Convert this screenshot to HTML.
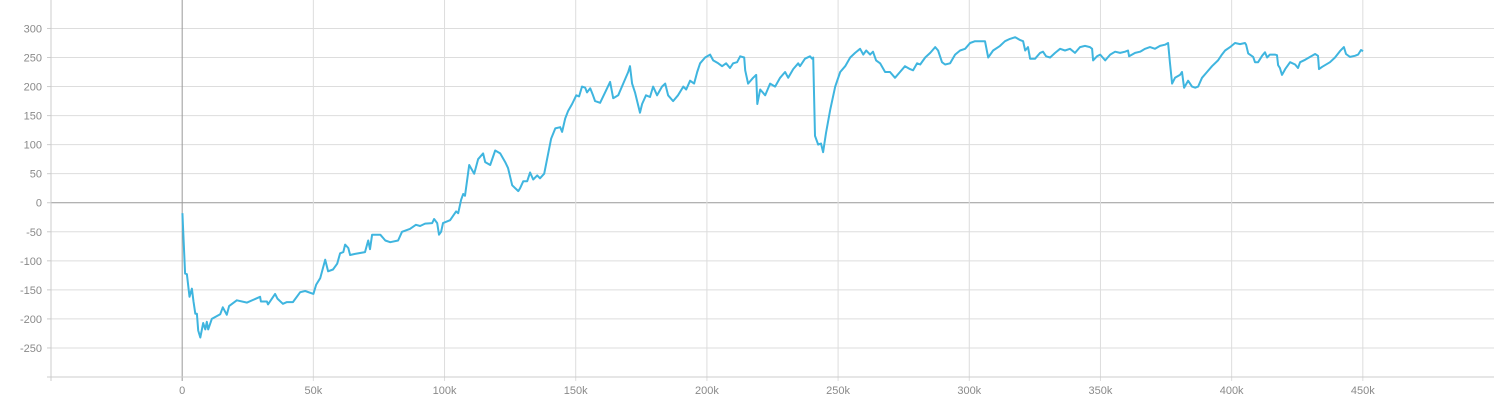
<!DOCTYPE html>
<html><head><meta charset="utf-8"><style>
html,body{margin:0;padding:0;background:#fff;width:1496px;height:400px;overflow:hidden}
svg text{font-family:"Liberation Sans",sans-serif;font-size:11px;fill:#8a8a8a}
</style></head><body>
<svg id="chart" width="1496" height="400" xmlns="http://www.w3.org/2000/svg"></svg>
<script>
const stepsK = [0.1,1.1,1.8,2.8,3.7,4.3,5.0,5.6,6.1,6.9,8.0,8.8,9.4,9.9,11.3,14.5,15.5,17.0,17.9,20.8,24.7,29.7,30.0,32.3,32.7,35.4,36.3,38.4,39.9,42.2,45.0,46.9,50.0,51.1,52.6,54.5,55.6,57.5,59.1,60.2,61.4,62.1,63.3,64.0,65.9,69.7,70.9,71.6,72.4,75.5,77.4,79.3,82.3,83.8,86.8,89.1,90.7,92.6,95.3,96.0,97.2,97.9,98.7,99.4,102.1,104.4,105.2,106.3,107.1,107.8,109.4,111.3,112.8,114.7,115.5,117.4,119.3,121.2,123.1,124.2,125.8,128.1,128.8,130.0,131.5,132.6,133.8,135.3,136.4,138.0,139.5,140.6,142.2,144.1,144.8,146.0,147.1,148.6,150.2,151.3,152.4,153.6,154.3,155.5,156.6,157.4,159.3,161.2,163.1,164.3,166.2,168.1,170.0,170.7,171.5,172.6,174.5,175.3,176.8,178.3,179.5,181.0,182.9,184.1,185.2,187.1,189.0,191.0,192.1,193.6,195.1,196.3,197.4,199.3,201.2,202.4,204.3,205.8,207.3,208.8,210.0,211.5,212.7,214.2,214.6,215.7,217.6,218.8,219.2,220.3,222.2,224.1,226.0,227.9,229.8,231.0,232.9,234.8,235.5,237.4,239.3,240.1,240.5,241.2,242.4,243.5,244.3,245.4,247.0,248.9,250.8,252.7,254.6,256.5,258.4,259.6,260.7,262.2,263.3,264.5,266.0,267.9,269.8,271.7,273.6,275.5,277.4,278.6,280.1,281.3,283.2,285.1,287.0,288.1,289.6,290.8,292.7,294.6,296.5,298.4,300.3,302.2,304.1,306.0,307.2,309.1,311.7,313.6,315.5,317.5,319.4,320.5,321.3,322.4,323.2,325.1,327.0,328.1,329.3,330.8,332.7,334.6,336.5,338.4,340.3,342.2,344.1,346.0,346.8,347.2,348.7,349.9,351.8,353.7,355.6,357.5,359.4,360.5,360.9,363.2,365.1,367.0,368.9,370.8,372.7,374.6,375.8,376.5,377.3,378.4,380.3,381.1,381.9,383.4,384.9,386.1,387.2,388.7,390.6,392.5,394.8,396.3,397.5,399.4,401.3,403.2,405.1,405.5,406.3,408.2,408.9,410.1,411.6,412.7,413.5,414.6,416.5,417.3,417.7,418.4,419.2,420.4,422.3,424.2,425.3,426.1,428.0,429.9,431.8,432.9,433.3,434.5,437.5,439.4,441.3,442.8,443.6,445.1,447.0,448.2,449.3,450.1];
const rewards = [-18,-122,-123,-162,-148,-170,-191,-191,-220,-232,-207,-218,-205,-218,-200,-192,-180,-193,-178,-168,-172,-162,-170,-170,-175,-157,-165,-174,-171,-171,-154,-152,-157,-141,-130,-98,-118,-115,-105,-87,-85,-72,-78,-90,-88,-85,-65,-80,-55,-55,-65,-68,-65,-50,-45,-38,-40,-36,-35,-28,-35,-55,-50,-35,-30,-15,-18,5,15,12,65,50,75,85,70,65,90,85,70,60,30,20,25,37,37,52,40,47,42,50,85,110,128,130,122,145,158,170,185,183,200,198,190,197,185,175,172,190,208,180,185,205,225,235,205,190,155,170,185,182,200,185,200,205,185,175,185,200,195,210,205,225,240,250,255,245,240,235,240,232,240,242,252,250,228,205,215,220,170,195,185,205,200,215,225,215,230,240,235,248,252,248,250,115,100,102,87,120,160,200,225,235,250,258,265,255,262,255,260,245,240,225,225,215,225,235,230,228,240,238,250,258,268,262,242,238,240,255,262,265,275,278,278,278,250,262,270,278,282,285,280,278,262,268,248,248,258,260,252,250,258,265,262,265,258,268,270,268,265,245,252,255,245,255,260,258,260,262,252,258,260,265,268,265,270,272,275,240,205,215,220,225,198,210,200,198,200,215,225,235,245,255,262,268,275,273,275,272,257,251,242,242,253,259,250,255,255,254,237,232,220,230,242,238,232,242,246,251,256,253,230,234,242,250,261,268,256,251,253,255,263,261];
const yTicks = [300,250,200,150,100,50,0,-50,-100,-150,-200,-250];
const xTicks = [0,50,100,150,200,250,300,350,400,450];
const xTickLabels = ["0","50k","100k","150k","200k","250k","300k","350k","400k","450k"];

const L=51,R=1494,T=0,B=377;
const xMin=-50,xMax=500,yMin=-300,yMax=349;
const X=k=>L+(k-xMin)/(xMax-xMin)*(R-L);
const Y=v=>B-(v-yMin)/(yMax-yMin)*(B-T);
const svg=document.getElementById('chart');
const NS='http://www.w3.org/2000/svg';
function mk(tag,attrs,parent){const e=document.createElementNS(NS,tag);for(const k in attrs)e.setAttribute(k,attrs[k]);(parent||svg).appendChild(e);return e;}

const grid=mk('g',{});


yTicks.forEach(v=>{
  const l=mk('line',{x1:L,x2:R,y1:Y(v),y2:Y(v),stroke:v===0?'#999':'#ddd','stroke-width':1},grid);
  
  
  const t=mk('text',{x:L-9,y:Y(v)+4,'text-anchor':'end'});
  t.textContent=v;
  
  
  const tk=mk('line',{x1:L-4,x2:L,y1:Y(v),y2:Y(v),stroke:'#ccc'});
  
  
});
const yb=mk('line',{x1:L-4,x2:R,y1:B,y2:B,stroke:'#ccc'});


xTicks.forEach((k,i)=>{
  const l=mk('line',{x1:X(k),x2:X(k),y1:T,y2:B+4,stroke:k===0?'#999':'#ddd','stroke-width':1},grid);
  
  
  const t=mk('text',{x:X(k),y:B+17,'text-anchor':'middle'});
  t.textContent=xTickLabels[i];
  
  
});
const ya=mk('line',{x1:L,x2:L,y1:T,y2:B+4,stroke:'#ccc'});



const d=stepsK.map((k,i)=>(i?'L':'M')+X(k).toFixed(1)+','+Y(rewards[i]).toFixed(1)).join('');
const p=mk('path',{d:d,fill:'none',stroke:'#3fb5df','stroke-width':2,'stroke-linejoin':'round'});


</script>
</body></html>
